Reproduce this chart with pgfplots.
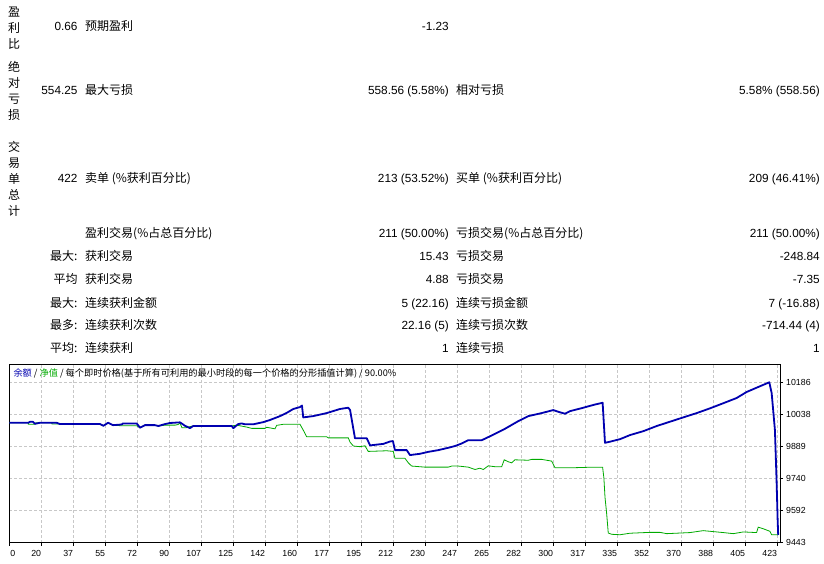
\documentclass[border=0pt]{standalone}
\usepackage{fontspec}
\setmainfont{Liberation Sans}
\newfontfamily\cjk{Noto Sans CJK SC}
\usepackage{pgfplots}
\pgfplotsset{compat=1.18}
\definecolor{bal}{RGB}{0,0,176}
\definecolor{eq}{RGB}{0,170,0}
\definecolor{gridc}{RGB}{200,200,200}
\newcommand{\NUM}[3]{\node[anchor=base east,inner sep=0pt,font=\fontsize{11.8}{13}\selectfont] at (#1,#2) {#3};}
\newcommand{\LAB}[3]{\node[anchor=base west,inner sep=0pt,font=\cjk\fontsize{12}{13}\selectfont] at (#1,#2) {#3};}
\newcommand{\LABR}[3]{\node[anchor=base east,inner sep=0pt,font=\cjk\fontsize{12}{13}\selectfont] at (#1,#2) {#3};}
\newcommand{\VC}[3]{\node[anchor=center,inner sep=0pt,font=\cjk\fontsize{12}{13}\selectfont] at (#1,#2) {#3};}
\begin{document}
\begin{tikzpicture}
\path[fill=white,use as bounding box] (0,0) rectangle (824pt,564pt);
\begin{axis}[
  at={(9.3pt,21.3pt)}, anchor=south west,
  scale only axis, width=770.7pt, height=178.7pt,
  xmin=0, xmax=424.5, ymin=9443, ymax=10273,
  axis line style={black, line width=0.8pt},
  xtick={0,17.625,35.25,52.875,70.5,88.125,105.75,123.375,141,158.625,176.25,193.875,211.5,229.125,246.75,264.375,282,299.625,317.25,334.875,352.5,370.125,387.75,405.375,423},
  xticklabels={{\makebox[0pt][l]{\hspace{1.8pt}0}},20,37,55,72,90,107,125,142,160,177,195,212,230,247,265,282,300,317,335,352,370,388,405,423},
  ytick={9443,9591.6,9740.2,9888.8,10037.4,10186},
  yticklabels={9443,9592,9740,9889,10038,10186},
  scaled y ticks=false, scaled x ticks=false,
  xtick pos=left, ytick pos=right, yticklabel pos=right,
  tick align=outside, major tick length=3pt,
  tick style={black, line width=0.6pt},
  grid=major,
  major grid style={gridc, dash pattern=on 3pt off 2pt, line width=0.6pt},
  xticklabel style={anchor=north east, inner xsep=0pt, font=\fontsize{8.8}{10}\selectfont, yshift=-1pt},
  yticklabel style={anchor=west, inner xsep=0pt, xshift=3pt, font=\fontsize{8.8}{10}\selectfont},
  /pgf/number format/assume math mode=true,
]
\addplot[eq, line width=0.8pt] coordinates {
(0,10000) (10.5,10000) (10.5,9993) (14.2,9993) (14.7,10000) (23.4,10000) (23.5,9994) (50,9994) (51.8,9986) (54.4,10000) (57.1,9989) (61.9,9986) (70.2,9986) (72,9977) (74.7,9989) (80.2,9989) (82.1,9985) (85.8,9989) (91.3,9989) (93,9992) (94,9999) (95.1,9977) (97.3,9977) (99.5,9982) (101.3,9985) (107.8,9985) (122.5,9985) (125.2,9989) (130.8,9980) (133.5,9974) (140.8,9974) (141.8,9979) (146.3,9972) (147.3,9988) (150.9,9993) (160.1,9993) (161.9,9966) (163.8,9935) (174.8,9935) (175.7,9930) (186.7,9930) (187.7,9910) (189.5,9892) (193.2,9889) (195.9,9893) (197.7,9867) (207.9,9870) (211.5,9867) (212.4,9835) (217.9,9835) (219.8,9814) (221.6,9799) (228.9,9794) (241.8,9794) (243.7,9799) (247.3,9799) (252.8,9794) (256.5,9783) (259.2,9789) (261.1,9783) (263.8,9800) (267.5,9796) (271.2,9796) (272.6,9828) (274.8,9819) (276.7,9814) (278.5,9828) (285.8,9826) (287.7,9830) (293.2,9830) (298.7,9822) (300.6,9791) (309.8,9791) (318.1,9793) (326.8,9793) (327.5,9743) (328.1,9655) (329,9580) (329.9,9488) (331.8,9482) (336.4,9480) (341.9,9487) (352.9,9491) (358.4,9491) (362.1,9485) (374.9,9490) (382.2,9499) (393.3,9490) (398.8,9485) (404.3,9493) (411.6,9490) (412.5,9515) (415.2,9508) (418.9,9496) (419.9,9480) (422.6,9480) (423.5,9479)
};
\addplot[bal, line width=1.8pt, line join=round] coordinates {
(0,10000) (10.5,10000) (11.4,10004.6) (13,10004.6) (14.2,9995.4) (16.9,10000) (23.4,10000) (26.1,10000) (27.9,9994) (50,9994) (51.8,9986) (54.4,10000) (57.1,9989) (61.9,9992) (62.6,9997) (70.2,9997) (72,9977) (74.7,9989) (80.2,9989) (82.1,9985) (85.8,9994) (88.5,9999) (94,10002) (96.8,9986) (99.5,9975) (101.3,9985) (107.8,9985) (122.5,9985) (123.4,9975) (126.1,9994) (128,9997) (129.8,9993) (134.4,9993) (139.9,10003) (143.6,10013) (149.1,10031) (152.8,10046) (156.4,10064) (160.1,10073) (161.2,10080) (161.9,10025) (167.4,10031) (174.8,10045) (182.1,10064) (186.7,10070) (187.7,10059) (190.4,9928) (196.9,9928) (198.7,9895) (206,9902) (209.7,9913) (211.3,9915) (212.4,9873) (218.9,9873) (220.7,9850) (226.2,9856) (230.8,9865) (236.3,9873) (241.8,9884) (245.5,9892) (249.2,9904) (252.8,9919) (260.2,9919) (265.7,9941) (273,9972) (280.4,10008) (285.9,10031) (293.2,10045) (299.6,10059) (302.4,10051) (306.1,10042) (308.8,10054) (315.3,10068) (322.2,10084) (326.8,10093) (328.1,9907) (330.8,9912) (336.4,9924) (341.9,9943) (349.2,9961) (356.6,9985) (363.9,10005) (371.2,10025) (378.6,10045) (385.9,10067) (393.3,10091) (400.6,10115) (406.1,10143) (411.6,10163) (418.6,10188) (419.9,10138) (421.7,9966) (422.6,9734) (423.2,9548) (423.5,9479)
};
\end{axis}
\begin{scope}[x=1pt,y=-1pt,shift={(0pt,564pt)}]
% vertical labels
\VC{14.2}{12}{盈}\VC{14.2}{28}{利}\VC{14.2}{43.5}{比}
\VC{14.2}{67}{绝}\VC{14.2}{83}{对}\VC{14.2}{99}{亏}\VC{14.2}{115}{损}
\VC{14.2}{146.5}{交}\VC{14.2}{163}{易}\VC{14.2}{179}{单}\VC{14.2}{195}{总}\VC{14.2}{211}{计}
% row 1
\NUM{77.7}{31}{0.66}\LAB{85}{31}{预期盈利}\NUM{449}{31}{-1.23}
% row 2
\NUM{77.7}{94.7}{554.25}\LAB{85}{94.7}{最大亏损}\NUM{449}{94.7}{558.56 (5.58\%)}
\LAB{456}{94.7}{相对亏损}\NUM{820}{94.7}{5.58\% (558.56)}
% row 3
\NUM{77.7}{183}{422}\LAB{85}{183}{卖单 (\%获利百分比)}\NUM{449}{183}{213 (53.52\%)}
\LAB{456}{183}{买单 (\%获利百分比)}\NUM{820}{183}{209 (46.41\%)}
% row 4
\LAB{85}{238}{盈利交易(\%占总百分比)}\NUM{449}{238}{211 (50.00\%)}
\LAB{456}{238}{亏损交易(\%占总百分比)}\NUM{820}{238}{211 (50.00\%)}
% row 5
\LABR{77.7}{260.7}{最大:}\LAB{85}{260.7}{获利交易}\NUM{449}{260.7}{15.43}
\LAB{456}{260.7}{亏损交易}\NUM{820}{260.7}{-248.84}
% row 6
\LABR{77.7}{283.3}{平均}\LAB{85}{283.3}{获利交易}\NUM{449}{283.3}{4.88}
\LAB{456}{283.3}{亏损交易}\NUM{820}{283.3}{-7.35}
% row 7
\LABR{77.7}{307.3}{最大:}\LAB{85}{307.3}{连续获利金额}\NUM{449}{307.3}{5 (22.16)}
\LAB{456}{307.3}{连续亏损金额}\NUM{820}{307.3}{7 (-16.88)}
% row 8
\LABR{77.7}{330}{最多:}\LAB{85}{330}{连续获利次数}\NUM{449}{330}{22.16 (5)}
\LAB{456}{330}{连续亏损次数}\NUM{820}{330}{-714.44 (4)}
% row 9
\LABR{77.7}{352.3}{平均:}\LAB{85}{352.3}{连续获利}\NUM{449}{352.3}{1}
\LAB{456}{352.3}{连续亏损}\NUM{820}{352.3}{1}
% chart caption
\node[anchor=west,inner sep=0pt,font=\cjk\fontsize{9.2}{10}\selectfont] at (13.3,373.5) {\textcolor{bal}{余额} / \textcolor{eq}{净值} / 每个即时价格(基于所有可利用的最小时段的每一个价格的分形插值计算) / 90.00\%};
\end{scope}
\end{tikzpicture}
\end{document}
